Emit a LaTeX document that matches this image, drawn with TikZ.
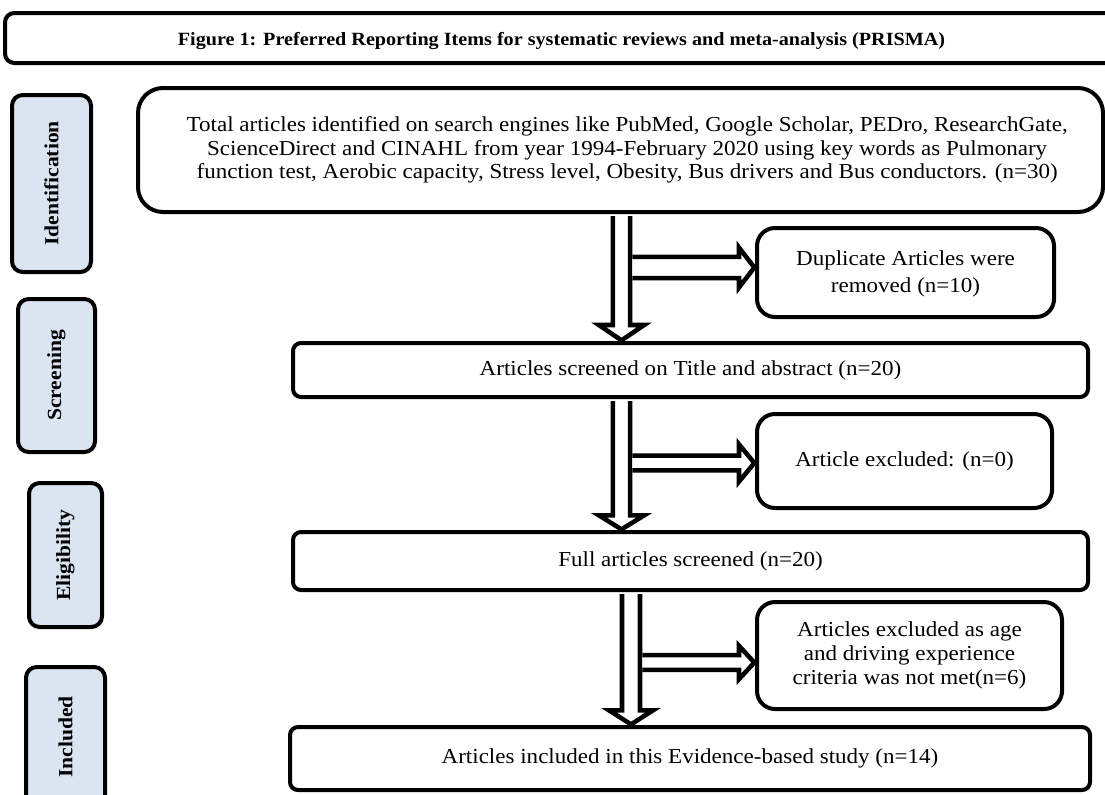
\documentclass[tikz,border=0pt]{standalone}
\usepackage{fontspec}
\setmainfont[FakeStretch=1.08]{Liberation Serif}
\usetikzlibrary{fit,calc}
\definecolor{sidefill}{RGB}{219,228,241}
\tikzset{
  box/.style={draw, line width=3pt, rounded corners=#1, inner sep=0pt, fill=white},
  box/.default=6pt,
  boxtext/.style={align=center, inner sep=0pt, font=\fontsize{16}{17.8}\selectfont},
  titletext/.style={align=center, inner sep=0pt, font=\fontsize{14}{16}\selectfont\bfseries},
  side/.style={draw, line width=3pt, rounded corners=8pt, inner sep=0pt, fill=sidefill},
  sidetext/.style={rotate=90, inner sep=0pt, font=\fontsize{15}{16}\selectfont\bfseries},
  arrowline/.style={draw, line width=3.4pt, fill=white, line join=miter},
}
% vertical hollow arrow: #1 x coordinate, #2 from node, #3 to node, #4 shaft half width, #5 head half width, #6 head length
\newcommand{\vhollow}[6]{%
  \draw[arrowline] let \p1=(#2.south -| #1), \p2=(#3.north -| #1) in
   (\x1-#4,\y1-1.5pt) -- (\x1-#4,\y2+#6) -- (\x1-#5,\y2+#6) -- (\x1,\y2+0.5pt)
   -- (\x1+#5,\y2+#6) -- (\x1+#4,\y2+#6) -- (\x1+#4,\y1-1.5pt);}
% horizontal hollow arrow: #1 shaft x coordinate, #2 vertical shaft half width, #3 target node, #4 shaft half width, #5 head half width, #6 y offset
\newcommand{\hhollow}[6]{%
  \draw[arrowline] let \p1=(#1), \p2=($(#3.west)+(0,#6)$) in
   (\x1+#2+1.7pt,\y2+#4) -- (\x2-12pt,\y2+#4) -- (\x2-12pt,\y2+#5) -- (\x2-0.5pt,\y2)
   -- (\x2-12pt,\y2-#5) -- (\x2-12pt,\y2-#4) -- (\x1+#2+1.7pt,\y2-#4);}
\begin{document}
\begin{tikzpicture}[x=0.75pt,y=-0.75pt]
\useasboundingbox (0,0) rectangle (1105,794);
\clip (0,0) rectangle (1105,794);

% title
\node[box=7pt, fit={(5,13) (1118,63)},
  label={[titletext, yshift=-2pt]center:Figure 1: Preferred Reporting Items for systematic reviews and meta-analysis (PRISMA)}] (title) {};

% side labels
\node[side, fit={(12,95) (91,272)}, label={[sidetext]center:Identification}] (sident) {};
\node[side, fit={(18,299) (95,452)}, label={[sidetext]center:Screening}] (sscreen) {};
\node[side, fit={(29,483) (102,627)}, label={[sidetext]center:Eligibility}] (selig) {};
\node[side, fit={(26,667) (105,807)}, label={[sidetext]center:Included}] (sincl) {};

% main boxes
\node[box=18.75pt, fit={(138,88) (1103,212)},
  label={[boxtext, xshift=5pt]center:{Total articles identified on search engines like PubMed, Google Scholar, PEDro, ResearchGate,\\
   ScienceDirect and CINAHL from year 1994-February 2020 using key words as Pulmonary\\
   function test, Aerobic capacity, Stress level, Obesity, Bus drivers and Bus conductors. (n=30)}}] (top) {};
\node[box=13.5pt, fit={(757,228) (1054,317)},
  label={[boxtext, yshift=-1pt]center:{Duplicate Articles were\\[2pt] removed (n=10)}}] (dup) {};
\node[box, fit={(293,343) (1088,397)},
  label={[boxtext]center:Articles screened on Title and abstract (n=20)}] (scr) {};
\node[box=13.5pt, fit={(757,414) (1052,508)},
  label={[boxtext]center:Article excluded: (n=0)}] (exc) {};
\node[box, fit={(293,532) (1088,590)},
  label={[boxtext]center:Full articles screened (n=20)}] (full) {};
\node[box=13.5pt, fit={(757,602) (1062,709)},
  label={[boxtext]center:{Articles excluded as age\\ and driving experience\\ criteria was not met(n=6)}}] (age) {};
\node[box, fit={(290,727) (1090,790)},
  label={[boxtext]center:Articles included in this Evidence-based study (n=14)}] (incl) {};

% arrow shafts
\coordinate (ax1) at (621.5,0);
\coordinate (ax2) at (621.5,0);
\coordinate (ax3) at (631,0);

\vhollow{ax1}{top}{scr}{6.4pt}{17pt}{12pt}
\hhollow{ax1}{6.4pt}{dup}{8pt}{15pt}{-5}
\vhollow{ax2}{scr}{full}{6.4pt}{17pt}{11pt}
\hhollow{ax2}{6.4pt}{exc}{5.5pt}{14pt}{2}
\vhollow{ax3}{full}{incl}{6.75pt}{16.5pt}{11pt}
\hhollow{ax3}{6.75pt}{age}{5.5pt}{12.5pt}{7}
\end{tikzpicture}
\end{document}
